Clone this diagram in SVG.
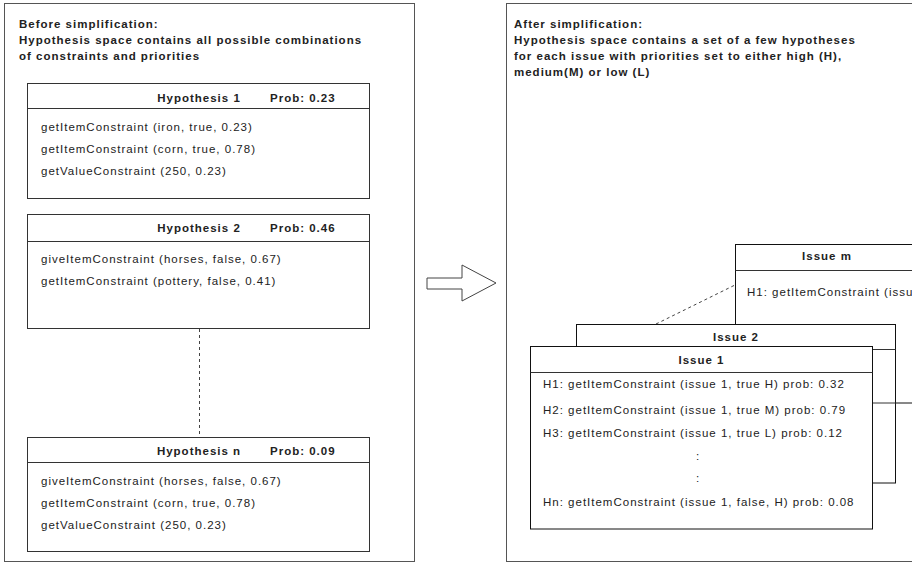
<svg xmlns="http://www.w3.org/2000/svg" width="912" height="564" viewBox="0 0 912 564">
<style>
text{font-family:"Liberation Sans",Arial,sans-serif;font-size:11.5px;fill:#222;letter-spacing:1px}
.b{font-weight:bold}
.m{text-anchor:middle}
.panel{fill:#fff;stroke:#555;stroke-width:1}
.box{fill:#fff;stroke:#333;stroke-width:1}
.ibox{fill:#fff;stroke:#111;stroke-width:1}
.sep{stroke:#333;stroke-width:1;fill:none}
.dash{stroke:#444;stroke-width:1;stroke-dasharray:3 3;fill:none}
</style>
<rect width="912" height="564" fill="#fff"/>
<g id="panel-before">
<rect class="panel" x="4.5" y="3.5" width="410" height="558"/>
<text class="b" x="19" y="27.5">Before simplification:</text>
<text class="b" x="19" y="43.5">Hypothesis space contains all possible combinations</text>
<text class="b" x="19" y="59.5">of constraints and priorities</text>
</g>
<g id="panel-after">
<rect class="panel" x="506.5" y="3.5" width="420" height="558"/>
<text class="b" x="514" y="27.5">After simplification:</text>
<text class="b" x="514" y="43.5">Hypothesis space contains a set of a few hypotheses</text>
<text class="b" x="514" y="59.5">for each issue with priorities set to either high (H),</text>
<text class="b" x="514" y="75.5">medium(M) or low (L)</text>
</g>
<g id="arrow">
<polygon points="427,278 462,278 462,265 496,283 462,301 462,289 427,289" fill="#fff" stroke="#444" stroke-width="1"/>
</g>
<g id="connectors">
<line class="dash" x1="199.5" y1="329" x2="199.5" y2="437"/>
<line class="dash" x1="656" y1="324" x2="735" y2="285"/>
</g>
<g id="hypothesis-1">
<rect class="box" x="27.5" y="83.5" width="342" height="115"/>
<line class="sep" x1="27.5" y1="108.5" x2="369.5" y2="108.5"/>
<text class="b m" x="199" y="101.5">Hypothesis 1</text>
<text class="b" x="270" y="101.5">Prob: 0.23</text>
<text x="41" y="131">getItemConstraint (iron, true, 0.23)</text>
<text x="41" y="153">getItemConstraint (corn, true, 0.78)</text>
<text x="41" y="175">getValueConstraint (250, 0.23)</text>
</g>
<g id="hypothesis-2">
<rect class="box" x="27.5" y="214.5" width="342" height="114"/>
<line class="sep" x1="27.5" y1="241.5" x2="369.5" y2="241.5"/>
<text class="b m" x="199" y="232">Hypothesis 2</text>
<text class="b" x="270" y="232">Prob: 0.46</text>
<text x="41" y="263">giveItemConstraint (horses, false, 0.67)</text>
<text x="41" y="285">getItemConstraint (pottery, false, 0.41)</text>
</g>
<g id="hypothesis-n">
<rect class="box" x="27.5" y="437.5" width="342" height="114"/>
<line class="sep" x1="27.5" y1="462.5" x2="369.5" y2="462.5"/>
<text class="b m" x="199" y="454.5">Hypothesis n</text>
<text class="b" x="270" y="454.5">Prob: 0.09</text>
<text x="41" y="485">giveItemConstraint (horses, false, 0.67)</text>
<text x="41" y="507">getItemConstraint (corn, true, 0.78)</text>
<text x="41" y="529">getValueConstraint (250, 0.23)</text>
</g>
<g id="issue-m">
<rect class="ibox" x="735.5" y="244.5" width="182" height="158.5"/>
<line class="sep" x1="735.5" y1="270.5" x2="917.5" y2="270.5"/>
<text class="b m" x="827" y="259.5">Issue m</text>
<text x="747" y="296">H1: getItemConstraint (issu</text>
</g>
<g id="issue-2">
<rect class="ibox" x="576.5" y="324.5" width="319" height="158.5"/>
<line class="sep" x1="576.5" y1="349.5" x2="895.5" y2="349.5"/>
<line class="sep" x1="576.5" y1="403" x2="895.5" y2="403"/>
<text class="b m" x="736" y="341">Issue 2</text>
</g>
<g id="issue-1">
<rect class="ibox" x="530.5" y="346.5" width="342" height="182.5"/>
<line class="sep" x1="530.5" y1="372.5" x2="872.5" y2="372.5"/>
<text class="b m" x="701.5" y="363.5">Issue 1</text>
<text x="543" y="388">H1: getItemConstraint (issue 1, true H) prob: 0.32</text>
<text x="543" y="414">H2: getItemConstraint (issue 1, true M) prob: 0.79</text>
<text x="543" y="437">H3: getItemConstraint (issue 1, true L) prob: 0.12</text>
<text class="m" x="698" y="460">:</text>
<text class="m" x="698" y="482">:</text>
<text x="543" y="506">Hn: getItemConstraint (issue 1, false, H) prob: 0.08</text>
</g>
</svg>
